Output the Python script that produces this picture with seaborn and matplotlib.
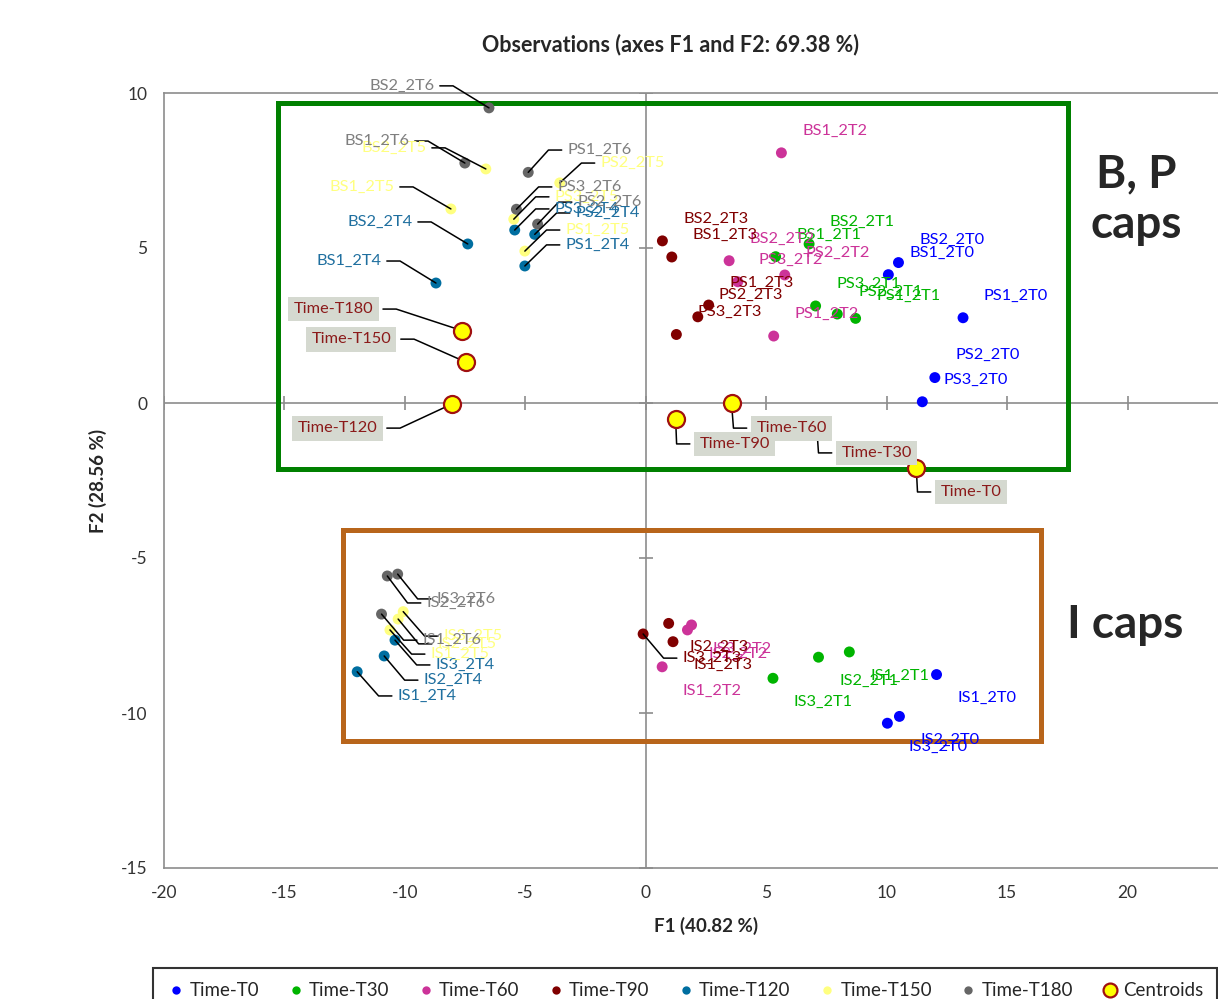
import numpy as np
import pandas as pd
import matplotlib
matplotlib.use("Agg")
import matplotlib.pyplot as plt
import seaborn as sns
from matplotlib.patches import Rectangle
from matplotlib.lines import Line2D

# --- data -------------------------------------------------------------------
times = ["Time-T0", "Time-T30", "Time-T60", "Time-T90", "Time-T120", "Time-T150", "Time-T180"]
codes = ["2T0", "2T1", "2T2", "2T3", "2T4", "2T5", "2T6"]
samples = ["BS1", "BS2", "PS1", "PS2", "PS3", "IS1", "IS2", "IS3"]

f1_t0 = [10.07, 10.49, 13.17, 12.00, 11.48, 12.07, 10.53, 10.03]
f2_t0 = [4.14, 4.53, 2.75, 0.82, 0.04, -8.76, -10.11, -10.33]
f1_t30 = [5.39, 6.78, 8.71, 7.95, 7.05, 8.45, 7.17, 5.28]
f2_t30 = [4.72, 5.13, 2.73, 2.87, 3.13, -8.03, -8.20, -8.88]
f1_t60 = [5.63, 3.46, 5.31, 5.77, 3.82, 0.68, 1.73, 1.90]
f2_t60 = [8.07, 4.59, 2.16, 4.13, 3.91, -8.51, -7.32, -7.16]
f1_t90 = [1.08, 0.69, 2.61, 2.16, 1.27, 1.13, 0.95, -0.11]
f2_t90 = [4.71, 5.23, 3.16, 2.78, 2.21, -7.70, -7.11, -7.45]
f1_t120 = [-8.71, -7.39, -5.02, -4.61, -5.44, -11.98, -10.86, -10.41]
f2_t120 = [3.87, 5.13, 4.42, 5.44, 5.58, -8.67, -8.16, -7.65]
f1_t150 = [-8.09, -6.64, -5.02, -3.57, -5.48, -10.62, -10.28, -10.07]
f2_t150 = [6.26, 7.55, 4.90, 7.10, 5.93, -7.32, -6.97, -6.73]
f1_t180 = [-7.51, -6.51, -4.88, -4.49, -5.37, -10.97, -10.73, -10.30]
f2_t180 = [7.74, 9.52, 7.44, 5.77, 6.25, -6.81, -5.58, -5.52]

cent_f1 = [11.23, 7.10, 3.56, 1.24, -8.04, -7.47, -7.61]
cent_f2 = [-2.11, -0.82, -0.01, -0.53, -0.03, 1.32, 2.33]

# where moved labels sit (start of the leader line)
leader_anchor = {
    "BS1_2T4": (-10.75, 4.58), "BS2_2T4": (-9.46, 5.84), "PS1_2T4": (-3.57, 5.10),
    "PS2_2T4": (-3.15, 6.13), "PS3_2T4": (-4.02, 6.26), "IS1_2T4": (-10.54, -9.45),
    "IS2_2T4": (-9.46, -8.94), "IS3_2T4": (-8.96, -8.45),
    "BS1_2T5": (-10.21, 6.97), "BS2_2T5": (-8.88, 8.23), "PS1_2T5": (-3.57, 5.58),
    "PS2_2T5": (-2.12, 7.74), "PS3_2T5": (-4.02, 6.65), "IS1_2T5": (-9.17, -8.10),
    "IS2_2T5": (-8.88, -7.77), "IS3_2T5": (-8.63, -7.52),
    "BS1_2T6": (-9.59, 8.45), "BS2_2T6": (-8.55, 10.23), "PS1_2T6": (-3.49, 8.16),
    "PS2_2T6": (-3.07, 6.48), "PS3_2T6": (-3.90, 6.97), "IS1_2T6": (-9.50, -7.65),
    "IS2_2T6": (-9.34, -6.45), "IS3_2T6": (-8.92, -6.32),
    "IS3_2T3": (1.29, -8.23),
}
cent_lab_x = [11.83, 7.72, 4.19, 1.83, -10.75, -10.17, -10.91]
cent_lab_y = [-2.87, -1.61, -0.81, -1.32, -0.81, 2.06, 3.03]

colors = ["#0000ff", "#00b400", "#cc3399", "#800000", "#006ea0", "#ffff80", "#666666"]
label_colors = ["#0000ff", "#00b400", "#cc3399", "#800000", "#1f6f9f", "#ffff80", "#7f7f7f"]

f1_all = [f1_t0, f1_t30, f1_t60, f1_t90, f1_t120, f1_t150, f1_t180]
f2_all = [f2_t0, f2_t30, f2_t60, f2_t90, f2_t120, f2_t150, f2_t180]

rows = []
for t, code, f1, f2 in zip(times, codes, f1_all, f2_all):
    for s, x, y in zip(samples, f1, f2):
        rows.append({"Observation": f"{s}_{code}", "Time": t, "F1": x, "F2": y})
obs = pd.DataFrame(rows)
cent = pd.DataFrame({"Time": times, "F1": cent_f1, "F2": cent_f2})

# --- style ------------------------------------------------------------------
sns.set_style("white")
plt.rcParams["font.family"] = ["Lato", "DejaVu Sans"]
plt.rcParams["axes.unicode_minus"] = False
GRAY = "#8c8c8c"

fig = plt.figure(figsize=(12.18, 9.99), dpi=100)
ax = fig.add_axes([164 / 1218, 1 - 868 / 999, 1084 / 1218, 775 / 999])
ax.set_xlim(-20, 25)
ax.set_ylim(-15, 10)

ax.axhline(0, color=GRAY, lw=1.2, zorder=1)
ax.axvline(0, color=GRAY, lw=1.2, zorder=1)
xt = np.arange(-20, 21, 5)
yt = np.arange(-15, 11, 5)
ax.plot(xt, np.zeros_like(xt), ls="none", marker="|", ms=10, mew=1.2, color=GRAY, zorder=1)
ax.plot(np.zeros_like(yt), yt, ls="none", marker="_", ms=10, mew=1.2, color=GRAY, zorder=1)

sns.scatterplot(data=obs, x="F1", y="F2", hue="Time", palette=dict(zip(times, colors)),
                s=62, linewidth=0, legend=False, ax=ax, zorder=3)
sns.scatterplot(data=cent, x="F1", y="F2", s=150, color="#ffff00", edgecolor="#a01010",
                linewidth=1.6, legend=False, ax=ax, zorder=5)

# highlight boxes
ax.add_patch(Rectangle((-15.27, -2.13), 32.78, 11.81, fill=False, ec="#008000", lw=3.6, zorder=2))
ax.add_patch(Rectangle((-12.57, -10.90), 28.96, 6.80, fill=False, ec="#b8651b", lw=3.6, zorder=2))


def leader_label(text, anchor, point, color, fs=11.8, boxed=False, z=6):
    lx, ly = anchor
    px, py = point
    d = px - lx
    elbow = lx + np.sign(d) * min(0.55, abs(d))
    ax.plot([lx, elbow, px], [ly, ly, py], color="black", lw=1.1, zorder=4, clip_on=False)
    off = 7 if boxed else 4
    ha = "right" if d > 0 else "left"
    bbox = dict(boxstyle="square,pad=0.33", fc="#d5d9d0", ec="none") if boxed else None
    ax.annotate(text, xy=anchor, xytext=(-off if d > 0 else off, 0), textcoords="offset points",
                ha=ha, va="center", color=color, fontsize=fs, bbox=bbox, zorder=z,
                annotation_clip=False)


for i, t in enumerate(times):
    sub = obs[obs["Time"] == t]
    for name, x, y in zip(sub["Observation"], sub["F1"], sub["F2"]):
        if name in leader_anchor:
            leader_label(name, leader_anchor[name], (x, y), label_colors[i])
        else:
            dy = 16 if y > -3 else -17
            ax.annotate(name, xy=(x, y), xytext=(15, dy), textcoords="offset points",
                        ha="left", va="center", color=label_colors[i], fontsize=11.8, zorder=6)

order = [2, 0, 1, 3, 4, 5, 6]
for k, i in enumerate(order):
    leader_label(times[i], (cent_lab_x[i], cent_lab_y[i]), (cent_f1[i], cent_f2[i]),
                 "#8b1a1a", fs=11.8, boxed=True, z=7 + k)

# axes cosmetics
for side in ["left", "bottom", "top"]:
    ax.spines[side].set_color(GRAY)
    ax.spines[side].set_linewidth(1.2)
ax.spines["right"].set_visible(False)
ax.set_xticks(xt)
ax.set_yticks(yt)
ax.tick_params(length=0, labelsize=12.5, labelcolor="#333333")
ax.tick_params(axis="x", pad=12)
ax.tick_params(axis="y", pad=12)
ax.set_xlabel("F1 (40.82 %)", fontsize=13.5, fontweight="bold", labelpad=12)
ax.set_ylabel("F2 (28.56 %)", fontsize=13.5, fontweight="bold", labelpad=10)
ax.set_title("Observations (axes F1 and F2: 69.38 %)", fontsize=15.5, fontweight="bold",
             x=(671 - 164) / 1084, pad=30)

fig.text(1136 / 1218, 1 - 200 / 999, "B, P\ncaps", ha="center", va="center",
         fontsize=33, fontweight="bold", linespacing=1.25)
fig.text(1125 / 1218, 1 - 625 / 999, "I caps", ha="center", va="center",
         fontsize=33, fontweight="bold")

handles = [Line2D([], [], ls="none", marker="o", ms=6, mew=0, color=c) for c in colors]
handles.append(Line2D([], [], ls="none", marker="o", ms=10, mfc="#ffff00", mec="#a01010", mew=1.6))
leg = fig.legend(handles, times + ["Centroids"], loc="upper left", ncol=8, mode="expand",
                 bbox_to_anchor=(153 / 1218, 1 - 968 / 999, 1064 / 1218, 0.0),
                 fontsize=13.5, frameon=True, fancybox=False, borderpad=0.75,
                 handletextpad=0.2, handlelength=1.0, borderaxespad=0)
leg.get_frame().set_edgecolor("black")
leg.get_frame().set_linewidth(1.5)

fig.savefig("out.png", dpi=100)
